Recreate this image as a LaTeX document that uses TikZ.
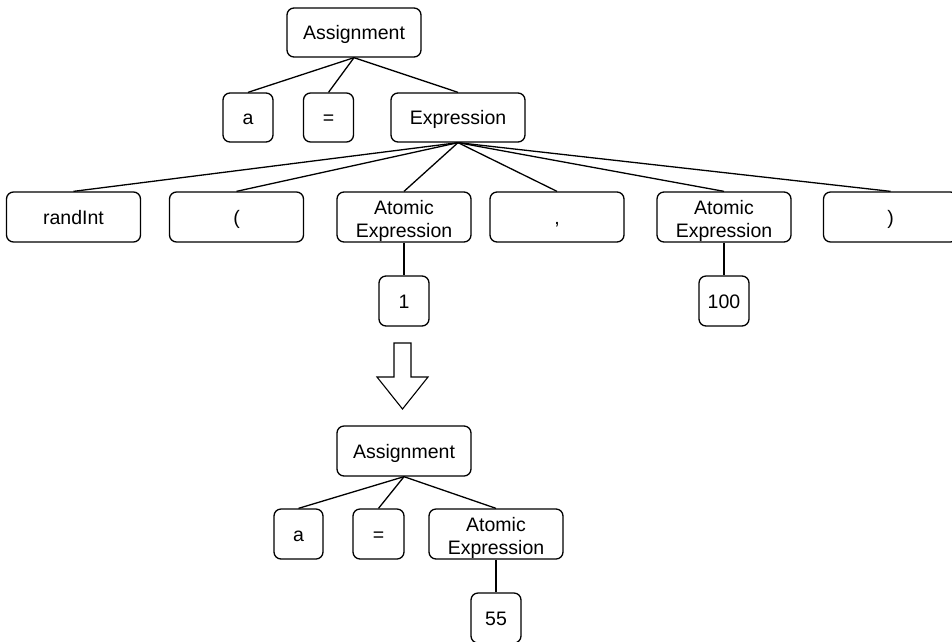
\documentclass[tikz,border=0pt]{standalone}
\usepackage{fontspec}
\setmainfont{Liberation Sans}
% two-line label, lowered a little inside its box while keeping its size
\newcommand\twolines[2]{\raisebox{-4pt}[\height][\depth]{\begin{tabular}{@{}c@{}}#1\\#2\end{tabular}}}
\begin{document}
\begin{tikzpicture}[x=1pt,y=-1pt,
  box/.style={draw, line width=1.3pt, rounded corners=7pt, fill=white,
    minimum height=49pt, inner sep=0pt, align=center,
    font=\fontsize{19.5}{23}\selectfont},
  single/.style={text height=14pt, text depth=0pt},
  wide/.style={box, minimum width=134pt},
  narrow/.style={box, minimum width=50pt},
  edge/.style={line width=1.3pt}]
\useasboundingbox (0,0) rectangle (952,641);
\clip (0,0) rectangle (952,641);

% upper tree: the expression before evaluation
\node[wide, single]   (asgA)  at (354,32.5)  {Assignment};
\node[narrow, single] (aA)    at (248,117.5) {a};
\node[narrow, single] (eqA)   at (328.5,117.5) {=};
\node[wide, single]   (expr)  at (458,117.5) {Expression};

\node[wide, single, minimum height=50pt] (randint) at (73.5,217) {randInt};
\node[wide, single, minimum height=50pt] (lpar)    at (236.5,217) {(};
\node[wide, minimum height=50pt]         (atomA)   at (404,217) {\twolines{Atomic}{Expression}};
\node[wide, single, minimum height=50pt] (comma)   at (557,217) {,};
\node[wide, minimum height=50pt]         (atomB)   at (724,217) {\twolines{Atomic}{Expression}};
\node[wide, single, minimum height=50pt] (rpar)    at (890.5,217) {)};

\node[narrow, single, minimum height=50pt] (one)     at (404,301) {1};
\node[narrow, single, minimum height=50pt] (hundred) at (724,301) {100};

\foreach \c in {aA,eqA,expr} \draw[edge] (asgA.south) -- (\c.north);
\foreach \c in {randint,lpar,atomA,comma,atomB,rpar} \draw[edge] (expr.south) -- (\c.north);
\draw[edge] (atomA.south) -- (one.north);
\draw[edge] (atomB.south) -- (hundred.north);

% hollow arrow between the two trees
\draw[line width=1.1pt, line join=miter, fill=white]
  (394,343) -- (411,343) -- (411,377) -- (428,377) -- (402.5,409)
  -- (377,377) -- (394,377) -- cycle;

% lower tree: the result after evaluation
\node[wide, single, minimum height=50pt]   (asgB)  at (404,451) {Assignment};
\node[narrow, single, minimum height=50pt, minimum width=49pt] (aB) at (298.5,534) {a};
\node[narrow, single, minimum height=50pt, minimum width=51pt] (eqB) at (378.5,534) {=};
\node[wide, minimum height=50pt]           (atomC) at (496,534) {\twolines{Atomic}{Expression}};
\node[narrow, single, minimum height=50pt] (n55)   at (496,618) {55};

\foreach \c in {aB,eqB,atomC} \draw[edge] (asgB.south) -- (\c.north);
\draw[edge] (atomC.south) -- (n55.north);
\end{tikzpicture}
\end{document}
